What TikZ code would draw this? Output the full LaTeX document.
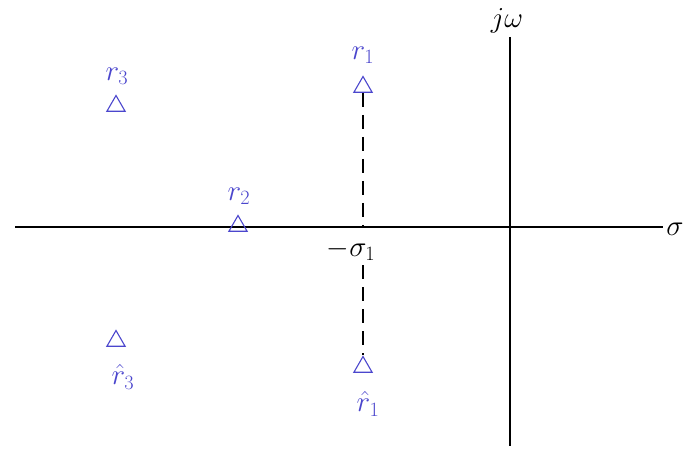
\RequirePackage{fix-cm}
\documentclass[tikz,border=0pt]{standalone}
\usetikzlibrary{shapes.geometric}
\definecolor{polec}{RGB}{75,70,205}
\begin{document}
\begin{tikzpicture}[x=1pt,y=-1pt,
  axis/.style={line width=1.4pt,black},
  tri/.style={regular polygon,regular polygon sides=3,draw=polec,line width=1.1pt,minimum size=21pt,inner sep=0pt},
  lbl/.style={text=polec,font=\fontsize{29}{33}\selectfont,inner sep=0pt},
  axlbl/.style={text=black,font=\fontsize{29}{33}\selectfont,inner sep=0pt},
  dsh/.style={line width=1.5pt,black,dash pattern=on 14pt off 8pt}]
\useasboundingbox (0,0) rectangle (687,452);
\coordinate (hl) at (15,227);
\coordinate (hr) at (663,227);
\coordinate (vt) at (510,37);
\coordinate (vb) at (510,446);
\draw[axis] (hl) -- (hr);
\draw[axis] (vt) -- (vb);
\node[axlbl] (sig) at (675,229) {$\sigma$};
\node[axlbl] (jw) at (507,21) {$j\omega$};
\node[tri] (r1) at (363,87) {};
\node[tri] (r2) at (238,226) {};
\node[tri] (r3) at (116,106) {};
\node[tri] (r3h) at (116,341) {};
\node[tri] (r1h) at (363,367) {};
\node[lbl] (lr1) at (363,55) {$r_1$};
\node[lbl] (lr2) at (239,196) {$r_2$};
\node[lbl] (lr3) at (117,76) {$r_3$};
\node[lbl] (lr3h) at (123,377) {$\hat{r}_3$};
\node[lbl] (lr1h) at (368,404) {$\hat{r}_1$};
\node[axlbl] (ms) at (351,250) {$-\sigma_1$};
\coordinate (ax1) at (363,227);
\coordinate (ax2) at (363,265);
\draw[dsh] (r1.south) -- (ax1);
\draw[dsh] (ax2) -- (r1h.north);
\end{tikzpicture}
\end{document}
